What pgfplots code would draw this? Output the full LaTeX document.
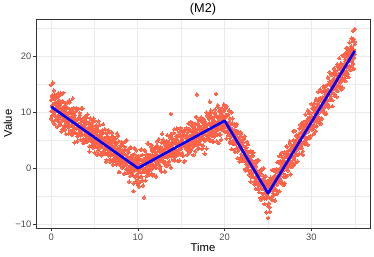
\documentclass[border=0pt]{standalone}
\usepackage{pgfplots}
\usepackage{pgfplotstable}
\pgfplotsset{compat=1.18}
\usepackage{fontspec}
\setmainfont{Liberation Sans}
\definecolor{pts}{RGB}{255,99,71}
\definecolor{grid92}{RGB}{235,235,235}
\definecolor{grey20}{RGB}{51,51,51}
\definecolor{grey30}{RGB}{77,77,77}
\pgfplotstableread{
x a b c d
0.0 12.2 10.2 14.9 8.9
0.1 9.4 11.2 13.0 12.7
0.2 11.4 8.4 15.3 10.3
0.3 10.5 12.4 9.6 13.9
0.4 13.2 10.1 11.5 7.9
0.5 8.6 11.8 10.2 11.4
0.6 10.7 9.1 13.1 12.6
0.7 7.4 11.0 11.7 9.0
0.8 11.2 9.5 13.4 10.5
0.9 9.1 12.2 8.3 12.9
1.0 10.1 7.8 11.3 8.0
1.1 11.7 9.4 13.4 10.8
1.2 8.4 10.4 6.6 13.3
1.3 10.1 12.0 8.7 7.0
1.4 9.2 10.5 13.5 10.9
1.5 11.0 7.6 9.5 8.7
1.6 6.9 9.8 10.4 11.7
1.7 10.0 8.4 11.6 6.1
1.8 7.9 10.8 8.8 9.6
1.9 11.8 7.5 9.3 10.8
2.0 8.2 9.9 6.2 7.3
2.1 9.0 11.8 7.7 12.1
2.2 10.0 8.5 6.7 8.8
2.3 7.7 10.5 9.2 6.3
2.4 10.1 5.9 8.4 10.0
2.5 6.9 8.8 12.5 7.4
2.6 8.9 7.2 10.0 10.8
2.7 7.9 9.5 4.6 6.3
2.8 10.1 6.3 8.5 8.7
2.9 7.1 8.0 10.5 10.8
3.0 8.7 5.7 7.3 4.8
3.1 6.0 8.8 10.6 8.8
3.2 7.6 7.2 9.1 7.1
3.3 9.9 6.2 6.6 9.5
3.4 6.9 8.2 5.1 5.9
3.5 8.5 10.7 6.7 7.7
3.6 6.0 7.4 8.8 10.7
3.7 7.6 5.2 7.1 4.5
3.8 4.8 8.2 9.1 8.3
3.9 6.7 6.1 7.8 5.9
4.0 8.4 5.3 7.1 9.2
4.1 6.0 9.1 5.0 4.7
4.2 7.0 6.2 9.6 6.7
4.3 5.1 7.3 5.6 8.1
4.4 8.2 3.9 6.5 3.0
4.5 5.8 6.9 7.8 8.9
4.6 7.4 4.9 5.8 5.3
4.7 4.0 6.1 8.2 6.9
4.8 6.1 7.6 4.4 3.7
4.9 4.7 5.2 6.6 8.9
5.0 8.5 6.1 2.8 4.4
5.1 5.2 3.9 6.7 7.1
5.2 6.5 5.4 4.7 7.7
5.3 3.8 7.3 6.0 2.4
5.4 5.6 4.3 3.2 5.8
5.5 6.7 5.0 8.4 3.4
5.6 4.2 6.0 3.7 7.7
5.7 5.6 2.6 5.1 6.0
5.8 4.5 6.2 4.3 2.3
5.9 6.8 3.8 5.5 4.6
6.0 2.9 4.9 6.4 7.9
6.1 4.5 3.2 5.2 3.0
6.2 5.3 7.0 2.6 5.0
6.3 3.4 4.4 1.2 6.3
6.4 4.6 3.6 5.5 1.5
6.5 2.7 5.7 4.0 5.4
6.6 5.1 2.3 6.8 3.2
6.7 3.2 4.3 2.8 6.4
6.8 3.8 1.1 4.7 1.6
6.9 5.5 3.2 2.4 4.3
7.0 2.4 4.6 3.9 6.4
7.1 4.0 1.5 5.7 0.6
7.2 1.2 3.5 2.9 5.0
7.3 4.0 5.2 1.7 2.2
7.4 2.6 2.0 4.5 5.3
7.5 4.4 2.3 0.7 1.3
7.6 1.6 3.5 6.2 3.2
7.7 2.6 1.2 3.2 5.8
7.8 4.8 2.6 1.8 -0.7
7.9 0.7 3.4 -0.7 3.7
8.0 2.7 1.9 4.1 1.6
8.1 1.3 4.1 2.4 4.7
8.2 3.3 0.1 1.1 0.3
8.3 1.7 2.5 4.5 2.8
8.4 2.5 0.8 3.2 -1.0
8.5 -0.9 3.2 1.3 3.8
8.6 2.4 0.9 4.8 0.6
8.7 0.9 1.8 -0.3 5.0
8.8 3.1 -0.9 2.1 -0.1
8.9 0.1 1.2 3.4 2.8
9.0 1.5 -0.3 -2.4 1.6
9.1 3.7 1.8 0.5 -1.4
9.2 0.2 -0.7 2.0 3.7
9.3 2.0 1.1 -1.2 -0.2
9.4 -0.6 2.4 1.2 1.9
9.5 0.8 -0.3 -4.1 -2.7
9.6 3.6 0.3 1.4 2.5
9.7 -1.4 1.2 -0.3 -1.5
9.8 0.8 -2.4 2.0 3.2
9.9 -0.3 1.5 -1.1 -2.1
10.0 0.9 -1.5 -3.0 2.0
10.1 -0.2 2.2 0.5 -3.3
10.2 1.7 -0.7 -2.5 1.4
10.3 -0.7 0.5 3.3 -1.6
10.4 0.6 -1.5 1.5 3.4
10.5 2.4 0.0 -0.7 -2.2
10.6 -0.1 1.5 -3.1 1.1
10.7 1.4 -5.2 0.8 -0.7
10.8 -0.7 1.3 3.1 3.2
10.9 1.9 0.1 0.6 -2.2
11.0 -1.4 2.5 1.6 2.3
11.1 0.9 -0.3 4.4 -0.7
11.2 2.4 1.5 -0.5 4.4
11.3 0.3 -0.9 2.0 -1.2
11.4 1.8 2.4 0.8 1.9
11.5 -0.2 3.9 1.4 0.4
11.6 3.3 0.9 -1.0 4.1
11.7 1.4 2.3 3.0 -1.3
11.8 2.2 0.1 0.6 3.4
11.9 -1.3 1.9 3.6 0.2
12.0 2.9 1.4 2.3 2.2
12.1 1.2 3.6 0.1 -1.5
12.2 2.3 0.8 4.8 4.1
12.3 3.6 2.2 1.5 0.9
12.4 0.7 1.2 3.1 5.2
12.5 2.3 3.5 -0.1 0.0
12.6 1.8 0.3 3.0 3.8
12.7 4.6 2.9 2.2 -0.6
12.8 1.3 3.4 6.2 2.8
12.9 3.0 1.9 1.1 5.1
13.0 2.4 4.9 3.0 0.9
13.1 3.6 1.1 -0.6 4.4
13.2 1.0 2.8 4.0 2.1
13.3 3.6 2.4 4.9 0.4
13.4 3.0 4.6 1.9 5.9
13.5 2.1 0.7 3.5 4.1
13.6 4.6 3.8 2.8 1.2
13.7 2.7 2.2 5.8 5.5
13.8 6.0 3.5 9.7 0.1
13.9 2.1 4.4 3.3 4.2
14.0 3.7 2.7 5.3 2.2
14.1 1.5 5.0 2.9 6.3
14.2 4.7 3.4 7.0 1.4
14.3 3.4 2.1 4.5 5.0
14.4 4.3 5.7 2.5 3.0
14.5 2.4 4.2 5.2 7.1
14.6 5.7 3.0 1.3 2.4
14.7 3.3 4.6 4.2 6.0
14.8 4.5 2.8 6.5 1.4
14.9 4.1 7.2 3.4 4.8
15.0 5.6 3.8 2.4 6.8
15.1 2.7 5.2 4.9 2.5
15.2 4.6 2.2 6.1 5.9
15.3 6.6 4.5 4.1 1.1
15.4 3.8 5.9 1.3 6.8
15.5 5.6 4.1 5.8 3.8
15.6 4.4 7.2 3.4 5.8
15.7 6.4 3.8 5.2 2.4
15.8 3.0 5.4 6.9 8.0
15.9 5.6 4.7 4.3 3.7
16.0 5.1 6.7 3.0 6.9
16.1 4.2 3.5 8.3 3.2
16.2 7.7 6.0 5.1 5.6
16.3 4.8 4.6 6.6 8.1
16.4 6.2 7.3 3.9 2.4
16.5 4.2 5.4 6.0 7.1
16.6 6.8 3.0 7.8 4.8
16.7 5.5 6.7 4.8 9.2
16.8 6.3 4.6 13.2 4.2
16.9 3.5 6.1 5.6 8.0
17.0 7.7 8.7 4.9 3.6
17.1 5.5 5.6 6.9 7.2
17.2 6.4 4.3 8.7 5.1
17.3 5.1 7.3 5.6 9.1
17.4 8.3 5.6 6.4 3.5
17.5 5.5 6.8 4.1 7.1
17.6 7.2 5.1 7.8 8.8
17.7 6.4 8.4 2.6 4.9
17.8 8.0 6.0 7.2 8.0
17.9 5.2 7.6 10.0 3.5
18.0 6.9 5.8 6.0 9.4
18.1 7.9 9.1 5.3 6.0
18.2 6.3 6.8 8.0 8.9
18.3 9.7 5.2 11.9 4.9
18.4 5.9 7.7 6.7 10.3
18.5 7.6 6.4 9.2 5.8
18.6 7.0 8.8 4.8 8.1
18.7 8.5 6.1 8.1 4.8
18.8 5.7 7.8 9.2 9.9
18.9 8.2 10.5 6.7 7.0
19.0 7.1 6.2 13.3 9.4
19.1 9.3 7.8 5.9 4.8
19.2 6.8 9.0 11.3 8.3
19.3 8.1 7.4 4.5 10.8
19.4 10.2 8.8 7.8 6.1
19.5 7.7 6.0 9.5 10.2
19.6 9.1 9.8 7.1 5.1
19.7 6.9 8.0 10.7 9.6
19.8 8.6 9.3 7.6 7.1
19.9 10.2 7.2 8.9 11.4
20.0 7.7 11.2 6.5 6.7
20.1 9.4 7.8 9.1 10.7
20.2 6.5 9.4 11.1 5.3
20.3 8.1 6.7 7.4 9.4
20.4 9.6 7.7 5.9 6.7
20.5 6.6 8.3 7.8 10.3
20.6 7.8 4.5 8.9 4.8
20.7 5.5 7.2 6.2 8.0
20.8 7.9 5.7 10.0 3.4
20.9 6.0 8.0 4.9 8.9
21.0 6.5 4.3 6.1 4.7
21.1 3.3 6.4 6.9 7.8
21.2 6.4 5.3 4.5 2.9
21.3 4.4 7.6 5.5 6.0
21.4 5.2 3.6 6.7 7.9
21.5 6.5 5.2 1.8 3.0
21.6 3.3 3.8 5.3 6.4
21.7 4.8 5.6 3.9 1.2
21.8 3.4 1.8 6.4 4.8
21.9 4.9 3.9 2.5 6.2
22.0 1.7 4.2 3.8 1.3
22.1 3.2 2.2 5.2 4.6
22.2 5.3 4.0 1.3 1.9
22.3 2.0 1.4 3.2 5.7
22.4 3.1 2.3 -0.1 -0.4
22.5 0.7 3.7 2.9 3.2
22.6 2.1 1.1 4.7 0.2
22.7 0.6 2.2 1.1 4.3
22.8 2.9 -0.5 1.3 -1.1
22.9 0.9 2.0 -0.8 2.9
23.0 1.6 0.4 3.1 -2.4
23.1 -1.6 0.9 -0.3 2.8
23.2 1.3 2.2 -1.0 -0.9
23.3 -0.7 -1.5 0.7 2.8
23.4 0.2 0.0 -2.9 -2.4
23.5 -1.7 0.8 -0.6 0.9
23.6 1.3 -1.8 0.3 -3.7
23.7 -1.4 -0.5 -2.7 1.1
23.8 -0.7 -3.7 1.5 -2.7
23.9 -3.1 -1.4 -2.1 1.4
24.0 -0.5 -2.6 -1.0 -4.3
24.1 -3.0 -0.5 -5.3 -0.4
24.2 -2.1 -3.6 -0.4 -5.6
24.3 -1.1 -2.3 -3.7 -0.2
24.4 -5.0 -2.1 -2.6 -4.6
24.5 -2.6 -3.7 0.0 -1.8
24.6 -4.4 -2.2 -5.4 -6.4
24.7 -2.7 -5.2 -3.2 -1.4
24.8 -4.2 -3.1 -7.9 -5.4
24.9 -2.3 -5.3 -4.6 -2.3
25.0 -5.1 -3.0 -8.9 -6.8
25.1 -3.5 -6.3 -4.1 -2.3
25.2 -5.3 -2.9 -7.8 -7.0
25.3 -1.7 -4.0 -3.0 -2.4
25.4 -3.9 -5.2 -1.9 -5.6
25.5 -2.7 -2.3 -5.7 -0.3
25.6 -4.8 -0.4 -3.1 -4.5
25.7 -1.4 -3.5 -2.3 -0.3
25.8 -2.7 -3.8 -0.3 -5.8
25.9 -1.5 -1.7 -3.8 -0.6
26.0 -3.0 -0.1 -1.9 -4.6
26.1 -1.5 -4.1 -0.6 1.1
26.2 1.0 -2.0 -2.3 -2.6
26.3 -1.9 -0.4 2.2 -4.1
26.4 0.0 -2.0 -1.2 1.3
26.5 -2.2 -0.4 0.8 2.7
26.6 0.0 -0.8 -2.6 -2.7
26.7 1.3 1.9 -0.9 0.8
26.8 -0.4 -1.5 0.7 -3.0
26.9 0.4 1.2 -2.7 2.9
27.0 -1.6 1.0 2.4 -1.2
27.1 2.0 -0.1 0.7 3.9
27.2 0.8 2.5 3.8 -1.4
27.3 2.0 -0.4 0.2 3.1
27.4 0.4 1.6 2.5 0.6
27.5 4.8 1.4 1.1 4.4
27.6 1.3 3.3 2.4 -1.1
27.7 2.7 0.2 4.0 3.6
27.8 1.0 3.2 2.2 0.7
27.9 4.1 1.9 6.6 5.0
28.0 3.0 4.9 1.7 0.6
28.1 4.2 3.1 3.9 6.7
28.2 1.1 4.6 5.8 2.3
28.3 5.6 2.5 3.3 5.9
28.4 3.8 4.4 5.2 1.2
28.5 4.9 3.7 2.4 6.0
28.6 3.6 7.1 5.3 2.6
28.7 5.1 3.7 6.3 7.8
28.8 7.4 5.6 4.3 4.0
28.9 4.6 3.6 5.7 7.9
29.0 6.3 6.8 2.4 3.0
29.1 4.6 5.8 8.3 7.3
29.2 7.2 6.9 5.5 4.4
29.3 6.2 5.0 7.7 9.6
29.4 8.5 6.8 5.3 4.3
29.5 5.3 8.5 7.4 7.8
29.6 7.6 6.6 10.3 4.2
29.7 6.9 8.4 5.4 10.0
29.8 9.0 5.4 7.7 9.2
29.9 7.8 8.5 9.9 5.8
30.0 9.2 7.2 7.8 11.5
30.1 7.3 10.7 9.2 6.9
30.2 8.9 8.4 7.2 10.8
30.3 11.6 10.0 8.9 6.2
30.4 8.5 7.6 10.8 10.5
30.5 9.8 10.1 6.6 12.3
30.6 8.3 9.5 12.3 7.5
30.7 11.1 11.6 9.2 9.0
30.8 9.9 9.1 10.7 13.7
30.9 11.3 10.8 8.7 8.0
31.0 8.8 12.1 14.1 12.6
31.1 12.6 10.5 10.8 8.0
31.2 11.2 12.1 8.9 13.7
31.3 12.1 10.2 12.7 10.1
31.4 10.8 13.8 12.0 14.7
31.5 14.4 11.9 10.9 10.0
31.6 11.7 9.7 13.2 13.8
31.7 13.4 13.0 12.1 9.8
31.8 11.4 13.9 14.9 13.5
31.9 13.3 12.2 11.4 16.2
32.0 15.1 14.0 13.7 10.9
32.1 13.1 12.3 17.2 15.5
32.2 14.8 15.4 12.9 12.3
32.3 12.2 14.0 14.7 16.7
32.4 14.8 13.6 12.2 11.1
32.5 14.4 17.0 15.8 15.5
32.6 16.1 13.3 14.5 17.8
32.7 14.4 15.4 16.9 12.9
32.8 17.4 14.9 14.1 16.8
32.9 14.4 16.7 15.8 12.8
33.0 16.5 13.8 18.6 18.2
33.1 15.8 16.9 15.3 14.8
33.2 17.8 15.5 16.9 19.7
33.3 14.3 16.9 18.2 14.7
33.4 17.2 18.8 15.5 18.0
33.5 16.3 16.8 18.0 14.1
33.6 18.5 15.9 14.4 20.1
33.7 17.4 20.3 18.1 15.9
33.8 18.7 17.2 16.1 20.1
33.9 16.6 19.1 19.5 15.6
34.0 18.6 17.4 20.7 21.5
34.1 20.6 19.2 18.1 17.2
34.2 18.2 16.8 19.9 21.5
34.3 19.7 20.5 18.0 16.3
34.4 18.3 19.2 22.5 21.1
34.5 21.3 20.5 19.3 17.6
34.6 19.5 18.3 21.8 23.2
34.7 21.1 23.1 19.4 19.0
34.8 18.7 20.7 24.6 22.8
34.9 21.2 19.8 23.1 17.8
35.0 24.9 20.4 22.2 22.6
}\datatable
\begin{document}
\begin{tikzpicture}
\useasboundingbox (0,0) rectangle (374bp,257bp);
\begin{axis}[
  at={(36bp,29bp)}, anchor=south west,
  width=334bp, height=209bp, scale only axis,
  xmin=-1.75, xmax=36.75, ymin=-10.7, ymax=26.7,
  clip marker paths=true,
  xtick={0,10,20,30}, xticklabels={0,10,20,30},
  ytick={-10,0,10,20}, yticklabels={−10,0,10,20},
  minor xtick={5,15,25,35}, minor ytick={-5,5,15,25},
  minor tick length=0pt,
  major tick length=3bp,
  tick align=outside, tick pos=left,
  tick style={grey20, line width=0.5bp},
  grid=both,
  major grid style={grid92, line width=0.9bp},
  minor grid style={grid92, line width=0.5bp},
  axis line style={grey20, line width=0.6bp},
  ticklabel style={font=\fontsize{9.4bp}{11bp}\selectfont, text=grey30},
  xticklabel style={anchor=north, inner sep=0pt, yshift=-2.5bp},
  yticklabel style={anchor=east, inner sep=0pt, xshift=-1.5bp},
  xlabel={Time}, ylabel={Value},
  label style={font=\fontsize{11.3bp}{13bp}\selectfont},
  xlabel style={at={(axis description cs:0.5,-0.1148)}, anchor=base},
  ylabel style={at={(axis description cs:-0.0719,0.5)}, anchor=base},
  title={(M2)},
  every axis title shift=0pt,
  title style={font=\fontsize{12.7bp}{15bp}\selectfont, at={(axis description cs:0.5,1.0287)}, anchor=base},
]
\addplot[only marks, color=pts, mark=*, mark size=1.75bp, mark options={draw=pts, fill=pts, line width=0pt}] table[x=x, y=a] {\datatable};
\addplot[only marks, color=pts, mark=*, mark size=1.75bp, mark options={draw=pts, fill=pts, line width=0pt}] table[x=x, y=b] {\datatable};
\addplot[only marks, color=pts, mark=*, mark size=1.75bp, mark options={draw=pts, fill=pts, line width=0pt}] table[x=x, y=c] {\datatable};
\addplot[only marks, color=pts, mark=*, mark size=1.75bp, mark options={draw=pts, fill=pts, line width=0pt}] table[x=x, y=d] {\datatable};
\addplot[color=blue, line width=2.6bp, line join=round, mark=none] coordinates {(0,11) (10,0) (20,8.5) (25,-4.5) (35,21)};
\end{axis}
\end{tikzpicture}
\end{document}
